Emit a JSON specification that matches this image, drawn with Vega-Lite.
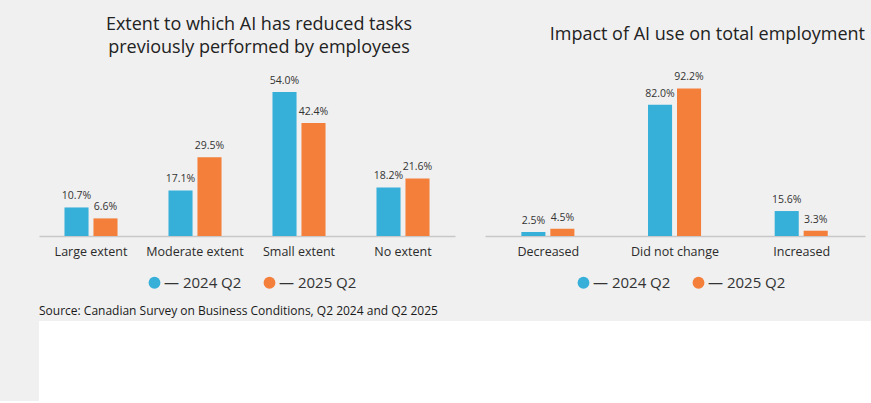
{
  "$schema": "https://vega.github.io/schema/vega-lite/v6.json",
  "background": "#f0f0f0",
  "padding": {"left": 38, "top": 16, "right": 0, "bottom": 0},
  "config": {
    "font": "Open Sans",
    "view": {"stroke": null},
    "axis": {"labelFont": "Open Sans", "labelColor": "#2b2b2b"},
    "legend": {"labelFont": "Open Sans"},
    "title": {"font": "Open Sans"}
  },
  "datasets": {
    "tasks": [
      {"category": "Large extent", "period": "2024 Q2", "value": 10.7},
      {"category": "Large extent", "period": "2025 Q2", "value": 6.6},
      {"category": "Moderate extent", "period": "2024 Q2", "value": 17.1},
      {"category": "Moderate extent", "period": "2025 Q2", "value": 29.5},
      {"category": "Small extent", "period": "2024 Q2", "value": 54.0},
      {"category": "Small extent", "period": "2025 Q2", "value": 42.4},
      {"category": "No extent", "period": "2024 Q2", "value": 18.2},
      {"category": "No extent", "period": "2025 Q2", "value": 21.6}
    ],
    "employment": [
      {"category": "Decreased", "period": "2024 Q2", "value": 2.5},
      {"category": "Decreased", "period": "2025 Q2", "value": 4.5},
      {"category": "Did not change", "period": "2024 Q2", "value": 82.0},
      {"category": "Did not change", "period": "2025 Q2", "value": 92.2},
      {"category": "Increased", "period": "2024 Q2", "value": 15.6},
      {"category": "Increased", "period": "2025 Q2", "value": 3.3}
    ],
    "blank": [{"k": 1}]
  },
  "spacing": 3,
  "vconcat": [
    {
      "title": {"text": "Source: Canadian Survey on Business Conditions, Q2 2024 and Q2 2025", "orient": "bottom", "anchor": "start", "fontSize": 12, "fontWeight": "normal", "color": "#1a1a1a", "offset": 15},
      "spacing": 30,
      "resolve": {"scale": {"color": "independent"}},
      "hconcat": [
        {
          "data": {"name": "tasks"},
          "width": 416,
          "height": 160,
          "title": {"text": ["Extent to which AI has reduced tasks", "previously performed by employees"], "fontSize": 18, "fontWeight": "normal", "color": "#222222", "anchor": "middle", "dx": 12, "offset": 19, "lineHeight": 23},
          "encoding": {
            "x": {"field": "category", "type": "nominal", "sort": ["Large extent", "Moderate extent", "Small extent", "No extent"], "scale": {"paddingInner": 0.49, "paddingOuter": 0.245}, "axis": {"title": null, "labelAngle": 0, "ticks": false, "domainColor": "#c8c8c8", "domainWidth": 1.5, "labelFontSize": 12.5, "labelPadding": 9}},
            "xOffset": {"field": "period", "type": "nominal", "scale": {"paddingInner": 0.17, "paddingOuter": 0}},
            "y": {"field": "value", "type": "quantitative", "scale": {"domain": [0, 60]}, "axis": null},
            "color": {"field": "period", "type": "nominal", "scale": {"domain": ["2024 Q2", "2025 Q2"], "range": ["#36afd9", "#f47f3a"]}, "legend": {"title": null, "orient": "none", "legendX": 108, "legendY": 199, "direction": "horizontal", "symbolType": "circle", "symbolSize": 140, "symbolStrokeWidth": 0, "labelFontSize": 15, "labelColor": "#333333", "labelOffset": 2, "columnPadding": 20, "labelExpr": "'— ' + datum.label"}}
          },
          "layer": [
            {"mark": {"type": "bar"}},
            {"mark": {"type": "text", "baseline": "middle", "dy": -11, "fontSize": 10.5, "text": {"expr": "format(datum.value, '.1f') + '%'"}}, "encoding": {"color": {"value": "#333333"}}}
          ]
        },
        {
          "data": {"name": "employment"},
          "width": 380,
          "height": 160,
          "title": {"text": "Impact of AI use on total employment", "fontSize": 18, "fontWeight": "normal", "color": "#222222", "anchor": "end", "offset": 28},
          "encoding": {
            "x": {"field": "category", "type": "nominal", "sort": ["Decreased", "Did not change", "Increased"], "scale": {"paddingInner": 0.574, "paddingOuter": 0.287}, "axis": {"title": null, "labelAngle": 0, "ticks": false, "domainColor": "#c8c8c8", "domainWidth": 1.5, "labelFontSize": 12.5, "labelPadding": 9}},
            "xOffset": {"field": "period", "type": "nominal", "scale": {"paddingInner": 0.17, "paddingOuter": 0}},
            "y": {"field": "value", "type": "quantitative", "scale": {"domain": [0, 100]}, "axis": null},
            "color": {"field": "period", "type": "nominal", "scale": {"domain": ["2024 Q2", "2025 Q2"], "range": ["#36afd9", "#f47f3a"]}, "legend": {"title": null, "orient": "none", "legendX": 91, "legendY": 199, "direction": "horizontal", "symbolType": "circle", "symbolSize": 140, "symbolStrokeWidth": 0, "labelFontSize": 15, "labelColor": "#333333", "labelOffset": 2, "columnPadding": 20, "labelExpr": "'— ' + datum.label"}}
          },
          "layer": [
            {"mark": {"type": "bar"}},
            {"mark": {"type": "text", "baseline": "middle", "dy": -11, "fontSize": 10.5, "text": {"expr": "format(datum.value, '.1f') + '%'"}}, "encoding": {"color": {"value": "#333333"}}}
          ]
        }
      ]
    },
    {
      "data": {"name": "blank"},
      "width": 833,
      "height": 80,
      "view": {"fill": "#ffffff", "stroke": null},
      "mark": {"type": "rule", "opacity": 0},
      "encoding": {}
    }
  ]
}
